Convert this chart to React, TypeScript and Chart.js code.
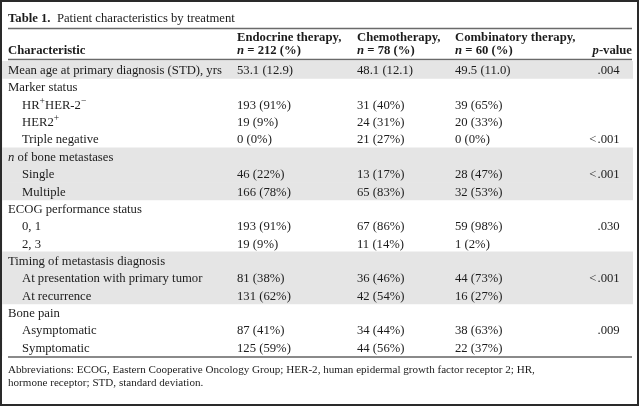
import React, { useEffect, useRef } from "react";
import { Chart, registerables } from "chart.js";

Chart.register(...registerables);

const titleBold = "Table 1.";
const titleText = "Patient characteristics by treatment";

const headerTop = ["", "Endocrine therapy,", "Chemotherapy,", "Combinatory therapy,", ""];
const headerBottom = ["Characteristic", "n = 212 (%)", "n = 78 (%)", "n = 60 (%)", "p-value"];

const categories = [
  "Mean age at primary diagnosis (STD), yrs",
  "Marker status",
  "HR⁺HER-2⁻",
  "HER2⁺",
  "Triple negative",
  "n of bone metastases",
  "Single",
  "Multiple",
  "ECOG performance status",
  "0, 1",
  "2, 3",
  "Timing of metastasis diagnosis",
  "At presentation with primary tumor",
  "At recurrence",
  "Bone pain",
  "Asymptomatic",
  "Symptomatic",
];

const subRow = [0, 0, 1, 1, 1, 0, 1, 1, 0, 1, 1, 0, 1, 1, 0, 1, 1];
const shaded = [1, 0, 0, 0, 0, 1, 1, 1, 0, 0, 0, 1, 1, 1, 0, 0, 0];

const endocrine = ["53.1 (12.9)", "", "193 (91%)", "19 (9%)", "0 (0%)", "", "46 (22%)", "166 (78%)", "", "193 (91%)", "19 (9%)", "", "81 (38%)", "131 (62%)", "", "87 (41%)", "125 (59%)"];
const chemotherapy = ["48.1 (12.1)", "", "31 (40%)", "24 (31%)", "21 (27%)", "", "13 (17%)", "65 (83%)", "", "67 (86%)", "11 (14%)", "", "36 (46%)", "42 (54%)", "", "34 (44%)", "44 (56%)"];
const combinatory = ["49.5 (11.0)", "", "39 (65%)", "20 (33%)", "0 (0%)", "", "28 (47%)", "32 (53%)", "", "59 (98%)", "1 (2%)", "", "44 (73%)", "16 (27%)", "", "38 (63%)", "22 (37%)"];
const pValues = [".004", "", "", "", "<.001", "", "<.001", "", "", ".030", "", "", "<.001", "", "", ".009", ""];

const footnote = [
  "Abbreviations: ECOG, Eastern Cooperative Oncology Group; HER-2, human epidermal growth factor receptor 2; HR,",
  "hormone receptor; STD, standard deviation.",
];

const FAMILY = '"Liberation Serif", "Times New Roman", serif';
const SIZE = 12.7;
const FOOT_SIZE = 11.1;
const TEXT = "#1c1c1c";

function fontStr(size: number, bold: boolean, italic: boolean) {
  return `${italic ? "italic " : ""}${bold ? "bold " : ""}${size}px ${FAMILY}`;
}

function drawRich(
  ctx: CanvasRenderingContext2D,
  text: string,
  x: number,
  baseline: number,
  bold: boolean,
  align: "left" | "right" = "left",
  size: number = SIZE
) {
  const parts = text.split(/(⁺|⁻|^n(?= )|^p(?=-))/).filter((p) => p);
  const items = parts.map((p) => {
    if (p === "⁺" || p === "⁻") {
      return { t: p === "⁺" ? "+" : "−", f: fontStr(size * 0.75, bold, false), dy: -size * 0.38 };
    }
    if (p === "n" || p === "p") {
      return { t: p, f: fontStr(size, bold, true), dy: 0 };
    }
    return { t: p, f: fontStr(size, bold, false), dy: 0 };
  });
  let total = 0;
  const widths = items.map((it) => {
    ctx.font = it.f;
    const w = ctx.measureText(it.t).width;
    total += w;
    return w;
  });
  let cx = align === "right" ? x - total : x;
  ctx.textAlign = "left";
  ctx.textBaseline = "alphabetic";
  items.forEach((it, i) => {
    ctx.font = it.f;
    ctx.fillText(it.t, cx, baseline + it.dy);
    cx += widths[i];
  });
}

const tablePlugin = {
  id: "tableText",
  afterDraw(chart: any) {
    const ctx: CanvasRenderingContext2D = chart.ctx;
    const yScale = chart.scales.y;
    const W = chart.width;
    const H = chart.height;
    const colX = [8, 237, 357, 455];
    const decX = 597.5;
    const ruleL = 8;
    const ruleR = 632;
    const bOff = 4.4;
    ctx.save();
    ctx.fillStyle = TEXT;

    // title
    ctx.font = fontStr(SIZE, true, false);
    ctx.textBaseline = "alphabetic";
    ctx.textAlign = "left";
    ctx.fillText(titleBold, 8, 18 + bOff);
    const tw = ctx.measureText(titleBold + "  ").width;
    ctx.font = fontStr(SIZE, false, false);
    ctx.fillText(titleText, 8 + tw, 18 + bOff);

    // rules
    ctx.strokeStyle = "#6a6a6a";
    ctx.lineWidth = 1.5;
    ctx.beginPath();
    ctx.moveTo(ruleL, 28.5);
    ctx.lineTo(ruleR, 28.5);
    ctx.moveTo(ruleL, 59.5);
    ctx.lineTo(ruleR, 59.5);
    ctx.stroke();
    ctx.strokeStyle = "#8a8a8a";
    ctx.lineWidth = 2;
    ctx.beginPath();
    ctx.moveTo(ruleL, chart.chartArea.bottom + 1);
    ctx.lineTo(ruleR, chart.chartArea.bottom + 1);
    ctx.stroke();

    // header
    ctx.fillStyle = TEXT;
    for (let c = 1; c <= 3; c++) {
      drawRich(ctx, headerTop[c], colX[c], 36.5 + bOff, true);
      drawRich(ctx, headerBottom[c], colX[c], 49.5 + bOff, true);
    }
    drawRich(ctx, headerBottom[0], colX[0], 49.5 + bOff, true);
    drawRich(ctx, headerBottom[4], ruleR, 49.5 + bOff, true, "right");

    // body
    categories.forEach((label, i) => {
      const y = yScale.getPixelForValue(i) + bOff;
      drawRich(ctx, label, subRow[i] ? 22 : 8, y, false);
      drawRich(ctx, endocrine[i], colX[1], y, false);
      drawRich(ctx, chemotherapy[i], colX[2], y, false);
      drawRich(ctx, combinatory[i], colX[3], y, false);
      const p = pValues[i];
      if (p) {
        if (p.startsWith("<")) {
          drawRich(ctx, "<", decX - 1, y, false, "right");
          drawRich(ctx, p.slice(1), decX, y, false);
        } else {
          drawRich(ctx, p, decX, y, false);
        }
      }
    });

    // footnote
    footnote.forEach((line, i) => {
      drawRich(ctx, line, 8, 369.5 + i * 13 + 3.9, false, "left", FOOT_SIZE);
    });

    // border
    ctx.strokeStyle = "#2a2a2a";
    ctx.lineWidth = 2;
    ctx.strokeRect(1, 1, W - 3, H - 2);
    ctx.restore();
  },
};

export default function App() {
  const ref = useRef<HTMLCanvasElement | null>(null);
  useEffect(() => {
    if (!ref.current) return;
    const chart = new Chart(ref.current, {
      type: "bar",
      data: {
        labels: categories,
        datasets: [
          {
            data: shaded,
            backgroundColor: "#e5e5e5",
            borderWidth: 0,
            barPercentage: 1,
            categoryPercentage: 1,
          },
        ],
      },
      options: {
        indexAxis: "y",
        responsive: false,
        animation: false,
        events: [],
        layout: { padding: { top: 61, bottom: 50, left: 2, right: 7 } },
        scales: {
          x: { display: false, min: 0, max: 1 },
          y: { display: false },
        },
        plugins: {
          legend: { display: false },
          tooltip: { enabled: false },
          title: { display: false },
        },
      },
      plugins: [tablePlugin],
    } as any);
    return () => chart.destroy();
  }, []);
  return (
    <div style={{ position: "fixed", left: 0, top: 0, width: 640, height: 406, background: "#fff" }}>
      <canvas ref={ref} width={640} height={406} style={{ display: "block" }} />
    </div>
  );
}
